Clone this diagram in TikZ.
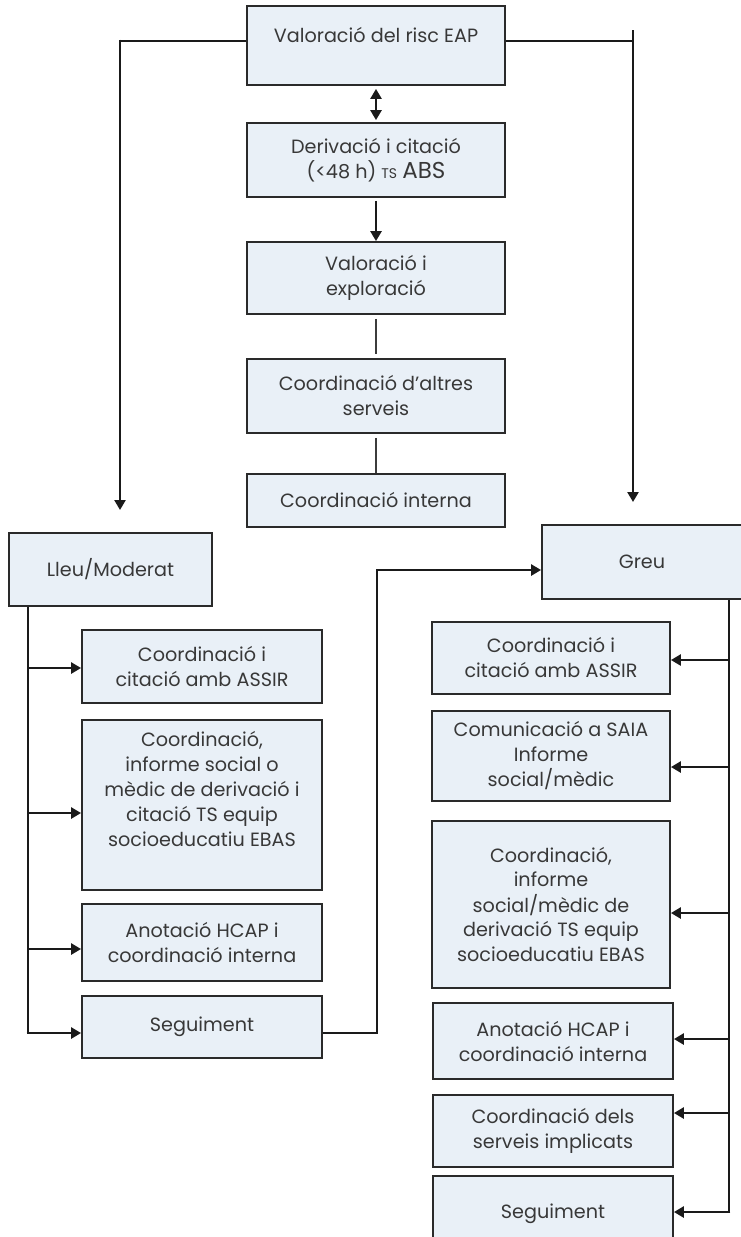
\documentclass[tikz,border=0pt]{standalone}
\usepackage{fontspec}
\setmainfont{Poppins}
\usetikzlibrary{arrows.meta}
\definecolor{boxfill}{HTML}{E9F0F7}
\definecolor{boxline}{HTML}{2A2A2A}
\definecolor{txt}{HTML}{383838}
\definecolor{wire}{HTML}{1A1A1A}

\begin{document}
\begin{tikzpicture}[x=1pt,y=-1pt,
  box/.style={draw=boxline, line width=1.8pt, fill=boxfill, text=txt,
    align=center, inner sep=0pt,
    font=\fontsize{19.2}{25}\selectfont},
  conn/.style={line width=2.6pt, draw=wire},
  thin/.style={line width=1.4pt, draw=wire!85},
  arr/.style={conn, -{Triangle[length=10pt,width=11pt]}},
  darr/.style={conn, {Triangle[length=10pt,width=11pt]}-{Triangle[length=10pt,width=11pt]}}]
\useasboundingbox (0,0) rectangle (740,1237);

% central column
\node[box, minimum width=258pt, minimum height=79pt] (b1) at (376,45.5) {Valoració del risc EAP\\[-4pt]};
\node[box, minimum width=258pt, minimum height=74pt] (b2) at (376,160)
  {Derivació i citació\\(<48 h) {\fontsize{14}{25}\selectfont TS} {\fontsize{23}{25}\selectfont ABS}};
\node[box, minimum width=258pt, minimum height=72pt] (b3) at (376,278) {Valoració i\\exploració};
\node[box, minimum width=258pt, minimum height=74pt] (b4) at (376,396) {Coordinació d’altres\\serveis};
\node[box, minimum width=258pt, minimum height=53pt] (b5) at (376,500.5) {Coordinació interna};

% two branches
\node[box, minimum width=203pt, minimum height=73pt] (lm) at (110.5,569.5) {Lleu/Moderat};
\node[box, minimum width=200pt, minimum height=74pt] (gr) at (642,562) {Greu};

% mild / moderate actions
\node[box, minimum width=240pt, minimum height=73pt] (l1) at (202,666.5) {Coordinació i\\citació amb ASSIR};
\node[box, minimum width=240pt, minimum height=170pt] (l2) at (202,805)
  {Coordinació,\\informe social o\\mèdic de derivació i\\citació TS equip\\socioeducatiu EBAS\\ \strut};
\node[box, minimum width=240pt, minimum height=77pt] (l3) at (202,942.5) {Anotació HCAP i\\coordinació interna};
\node[box, minimum width=240pt, minimum height=62pt] (l4) at (202,1027) {Seguiment};

% severe actions
\node[box, minimum width=238pt, minimum height=72pt] (r1) at (551,658) {Coordinació i\\citació amb ASSIR};
\node[box, minimum width=238pt, minimum height=90pt] (r2) at (551,756) {Comunicació a SAIA\\Informe\\social/mèdic};
\node[box, minimum width=238pt, minimum height=167pt] (r3) at (551,904.5)
  {Coordinació,\\informe\\social/mèdic de\\derivació TS equip\\socioeducatiu EBAS};
\node[box, minimum width=240pt, minimum height=76pt] (r4) at (553,1041) {Anotació HCAP i\\coordinació interna};
\node[box, minimum width=240pt, minimum height=72pt] (r5) at (553,1131) {Coordinació dels\\serveis implicats};
\node[box, minimum width=240pt, minimum height=76pt] (r6) at (553,1214) {Seguiment};

% free ends of the two long branch arrows
\coordinate (la) at (120,510);
\coordinate (ra) at (633,502);
\coordinate (rtop) at (633,30);

% top links
\draw[conn] (b1.west |- 0,41) -- (120,41) coordinate (lc);
\draw[arr] ([yshift=1.3pt]lc) -- (la);
\draw[conn] (b1.east |- 0,41) -- (rtop |- 0,41);
\draw[arr] (rtop) -- (ra);
\draw[darr] ([yshift=-3pt]b1.south) -- ([yshift=2pt]b2.north);
\draw[arr] ([yshift=-3pt]b2.south) -- (b3.north);
\draw[thin] ([yshift=-4pt]b3.south) -- ([yshift=4pt]b4.north);
\draw[thin] ([yshift=-4pt]b4.south) -- (b5.north);

% mild / moderate branch
\draw[conn] (lm.south -| 28,0) -- (28,1033) coordinate (lend);
\draw[arr] (28,668) -- (l1.west |- 0,668);
\draw[arr] (28,813) -- (l2.west |- 0,813);
\draw[arr] (28,949) -- (l3.west |- 0,949);
\draw[arr] ([xshift=-1.3pt]lend) -- (l4.west |- 0,1033);
\draw[arr] (l4.east |- 0,1033) -- (377,1033) -- (377,570) -- (gr.west |- 0,570);

% severe branch
\draw[conn] (gr.south -| 729,0) -- (729,1212) coordinate (rend);
\draw[arr] (729,660) -- (r1.east |- 0,660);
\draw[arr] (729,767) -- (r2.east |- 0,767);
\draw[arr] (729,913) -- (r3.east |- 0,913);
\draw[arr] (729,1039) -- (r4.east |- 0,1039);
\draw[arr] (729,1113) -- (r5.east |- 0,1113);
\draw[arr] ([xshift=1.3pt]rend) -- (r6.east |- 0,1212);
\end{tikzpicture}
\end{document}
